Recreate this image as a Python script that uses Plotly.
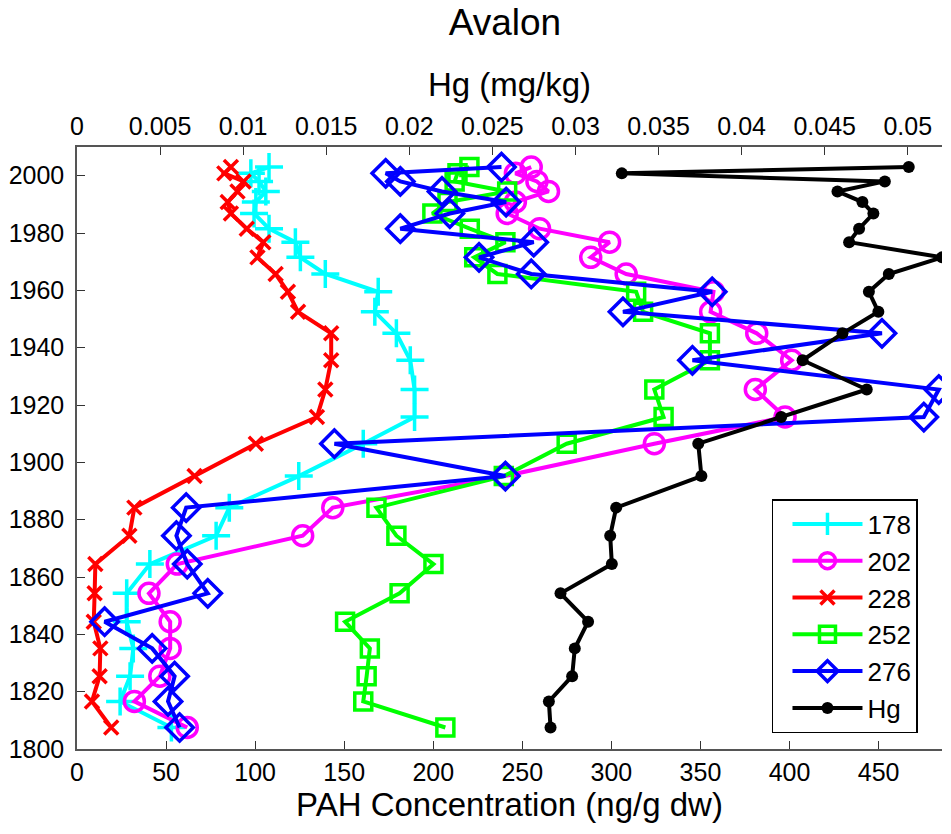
import plotly.graph_objects as go

years = [2003, 2000.8, 1998, 1994.5, 1990.8, 1986.8, 1981.5, 1976.8, 1971.5, 1965.7,
         1959.5, 1952.5, 1945, 1935.6, 1925.4, 1915.8, 1906.5, 1895.2, 1884.2, 1874.4,
         1864.5, 1854.3, 1844.4, 1835.1, 1825.4, 1816.6, 1807.5]

pah178 = [107.8, 97.6, 102.2, 106, 100.4, 99.4, 107.8, 122.6, 125.4, 139.4,
          169.1, 167.2, 179.3, 187.1, 189.5, 189.5, 160.7, 124.5, 85.5, 78.1,
          40.9, 27.9, 27.9, 31.6, 29.8, 24.2, 53]
pah202 = [255, 246.1, 258.2, 264.7, 246.1, 241.5, 259.7, 299, 288.4, 308.3,
          357.3, 355.7, 381.6, 401.2, 380.8, 397.5, 324.1, 240, 143.6, 126.7,
          56.3, 40.4, 52.3, 52.3, 46.5, 32.2, 61.9]
pah228 = [86.4, 82.7, 93.5, 90.1, 84.6, 86.4, 95.3, 104.6, 101.3, 111.5,
          118.4, 124.1, 142.7, 142.7, 139.4, 134.7, 100.4, 66, 32.2, 29.4,
          10.3, 9.9, 9.4, 13.1, 12.7, 8.4, 19.2]
pah252 = [220.3, 213.6, 212, 241.5, 208, 199.5, 220.5, 240.5, 223, 236,
          313.9, 317.8, 355.3, 355.3, 324.1, 329.3, 274.9, 239.6, 168.1, 179.3,
          200.1, 181.1, 150.5, 164.4, 162.6, 160.7, 206.8]
pah276 = [238.3, 173.3, 181.5, 204.9, 240.9, 209.3, 181.5, 256.4, 225.7, 255,
          356.6, 306.5, 451.9, 345.5, 483.8, 475.4, 144.5, 240.5, 61.3, 55.8,
          61.9, 73.4, 15.5, 42.2, 54.8, 51.1, 57.6]
hg = [0.05006, 0.03279, 0.04862, 0.04577, 0.04727, 0.04793, 0.04707, 0.04647, 0.05206, 0.04886,
      0.04766, 0.04823, 0.04607, 0.04367, 0.04753, 0.04238, 0.03739, 0.03758, 0.03245, 0.03209,
      0.03219, 0.0291, 0.03076, 0.02996, 0.0298, 0.0284, 0.0285]

series_names = ["178", "202", "228", "252", "276"]
series_vals = [pah178, pah202, pah228, pah252, pah276]
series_colors = ["#00FFFF", "#FF00FF", "#FF0000", "#00FF00", "#0000FF"]
series_symbols = ["cross-thin-open", "circle-open", "x-thin-open", "square-open", "diamond-open"]
series_sizes = [20, 20, 14, 17, 21]

bottom_ticks = [0, 50, 100, 150, 200, 250, 300, 350, 400, 450]
top_ticks = [0, 0.005, 0.01, 0.015, 0.02, 0.025, 0.03, 0.035, 0.04, 0.045, 0.05]
top_labels = ["0", "0.005", "0.01", "0.015", "0.02", "0.025", "0.03", "0.035", "0.04", "0.045", "0.05"]
year_ticks = [1800, 1820, 1840, 1860, 1880, 1900, 1920, 1940, 1960, 1980, 2000]

FONT = "Liberation Sans, Arial, sans-serif"

fig = go.Figure()
for name, vals, col, sym, sz in zip(series_names, series_vals, series_colors, series_symbols, series_sizes):
    fig.add_trace(go.Scatter(
        x=vals, y=years, name=name, mode="lines+markers",
        line=dict(color=col, width=4),
        marker=dict(symbol=sym, size=sz, color=col, line=dict(color=col, width=3.5)),
        xaxis="x", yaxis="y"))

fig.add_trace(go.Scatter(
    x=hg, y=years, name="Hg", mode="lines+markers",
    line=dict(color="black", width=4),
    marker=dict(symbol="circle", size=12, color="black"),
    xaxis="x2", yaxis="y"))

axis_common = dict(showgrid=False, zeroline=False, ticks="inside", ticklen=8, tickwidth=1,
                   tickcolor="#333333", linecolor="#555555", linewidth=1.5, showline=True,
                   tickfont=dict(family=FONT, size=25, color="black"))

fig.update_layout(
    width=951, height=834,
    margin=dict(l=72, r=9, t=147, b=85),
    paper_bgcolor="white", plot_bgcolor="white",
    font=dict(family=FONT, color="black"),
    title=dict(text="Avalon", x=0.531, xanchor="center", y=1 - 22 / 834, yanchor="middle",
               yref="container", font=dict(family=FONT, size=37, color="black")),
    xaxis=dict(range=[0, 485.6], tickvals=bottom_ticks, mirror=False,
               title=dict(text="PAH Concentration (ng/g dw)", standoff=4,
                          font=dict(family=FONT, size=33, color="black")),
               **axis_common),
    xaxis2=dict(range=[0, 0.05206], overlaying="x", side="top", tickvals=top_ticks, ticktext=top_labels,
                title=dict(text="Hg (mg/kg)", standoff=6, font=dict(family=FONT, size=33, color="black")),
                **axis_common),
    yaxis=dict(range=[1800, 2010], tickvals=year_ticks, ticklabelstandoff=6, **axis_common),
    showlegend=True,
    legend=dict(x=(771 - 72) / 870, y=(749 - 499) / 602, xanchor="left", yanchor="top",
                bordercolor="black", borderwidth=1.5, bgcolor="white",
                font=dict(family=FONT, size=26, color="black"), itemwidth=70,
                tracegroupgap=0, indentation=14),
)

fig.write_html("out.html")
